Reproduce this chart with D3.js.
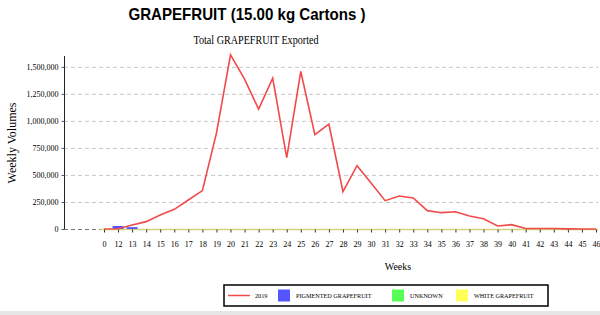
<!DOCTYPE html>
<html>
<head>
<meta charset="utf-8">
<script src="https://cdn.jsdelivr.net/npm/d3@7"></script>
<style>
	body { margin: 0; padding: 0; background: #fff; }
	svg text { font-family: "Liberation Serif", "Times New Roman", serif; fill: #000; }
</style>
</head>
<body>
<div id="chart"></div>
<script>
'use strict';

var weeks = ['0', '12', '13', '14', '15', '16', '17', '18', '19', '20', '21', '22',
	'23', '24', '25', '26', '27', '28', '29', '30', '31', '32', '33', '34', '35',
	'36', '37', '38', '39', '40', '41', '42', '43', '44', '45', '46'];

var total2019 = [0, 3000, 37000, 68000, 130000, 182000, 268000, 355000, 886000,
	1611000, 1386000, 1108000, 1395000, 660000, 1457000, 873000, 969000, 346000,
	586000, 425000, 262000, 305000, 287000, 170000, 151000, 160000, 120000, 95000,
	28000, 40000, 4000, 4000, 4000, 1000, 0, 0];

var pigmented = { '12': 28000, '13': 17000 };
var unknown = {};
var white = {};

var yTicks = [0, 250000, 500000, 750000, 1000000, 1250000, 1500000];

var legendItems = [
	{ label: '2019', color: '#f04a4a', type: 'line' },
	{ label: 'PIGMENTED GRAPEFRUIT', color: '#5555ff', type: 'box' },
	{ label: 'UNKNOWN', color: '#55ff55', type: 'box' },
	{ label: 'WHITE GRAPEFRUIT', color: '#ffff55', type: 'box' }
];

var width = 600, height = 315;
var plot = { left: 64, right: 598, top: 56, bottom: 229 };

var svg = d3.select('#chart').append('svg')
	.attr('width', width)
	.attr('height', height);

var x = d3.scalePoint().domain(weeks).range([plot.left + 40, 596]);
var y = d3.scaleLinear().domain([0, 1600000]).range([plot.bottom, plot.top]);

// titles (the source picture is a bit squeezed sideways)
svg.append('text')
	.attr('x', 247).attr('y', 20)
	.attr('text-anchor', 'middle')
	.attr('textLength', 237)
	.attr('lengthAdjust', 'spacingAndGlyphs')
	.style('font-family', '"Liberation Sans", Arial, sans-serif')
	.style('font-weight', 'bold')
	.style('font-size', '17px')
	.text('GRAPEFRUIT (15.00 kg Cartons )');

svg.append('text')
	.attr('x', 256).attr('y', 44)
	.attr('text-anchor', 'middle')
	.attr('textLength', 125)
	.attr('lengthAdjust', 'spacingAndGlyphs')
	.style('font-size', '12px')
	.text('Total GRAPEFRUIT Exported');

// grid
svg.append('g').selectAll('line')
	.data(yTicks.slice(1))
	.enter().append('line')
	.attr('x1', plot.left).attr('x2', plot.right)
	.attr('y1', function (d) { return y(d) + 0.5; })
	.attr('y2', function (d) { return y(d) + 0.5; })
	.attr('stroke', '#c8c8c8')
	.attr('stroke-dasharray', '4,3');

svg.append('line')
	.attr('x1', plot.left).attr('x2', plot.right)
	.attr('y1', y(0) + 0.5).attr('y2', y(0) + 0.5)
	.attr('stroke', '#777')
	.attr('stroke-dasharray', '4,3');

// y axis
var yAxis = d3.axisLeft(y).tickValues(yTicks).tickSize(3).tickFormat(d3.format(','));
var gy = svg.append('g')
	.attr('transform', 'translate(' + (plot.left + 0.5) + ',0)')
	.call(yAxis);
gy.select('.domain').attr('stroke', '#222').attr('d', 'M0,' + plot.top + 'V' + plot.bottom);
gy.selectAll('.tick line').attr('stroke', '#555');
gy.selectAll('.tick text').style('font-size', '8px').attr('x', -6);

// x axis
var xAxis = d3.axisBottom(x).tickSize(3).tickPadding(9);
var gx = svg.append('g')
	.attr('transform', 'translate(0,' + (plot.bottom + 0.5) + ')')
	.call(xAxis);
gx.select('.domain')
	.attr('stroke', '#d4d47c')
	.attr('stroke-width', 1.5)
	.attr('d', 'M' + (x('0') - 4) + ',0H' + plot.right);
gx.selectAll('.tick line').attr('stroke', '#333');
gx.selectAll('.tick text').style('font-size', '8px');

// bars
var barW = 11;
[{ data: pigmented, color: '#5555ff' },
 { data: unknown, color: '#55ff55' },
 { data: white, color: '#ffff55' }].forEach(function (s) {
	var entries = Object.keys(s.data).map(function (k) { return { week: k, value: s.data[k] }; });
	svg.append('g').selectAll('rect')
		.data(entries)
		.enter().append('rect')
		.attr('x', function (d) { return x(d.week) - barW / 2; })
		.attr('y', function (d) { return y(d.value); })
		.attr('width', barW)
		.attr('height', function (d) { return y(0) - y(d.value); })
		.attr('fill', s.color);
});

// line
var line = d3.line()
	.x(function (d, i) { return x(weeks[i]); })
	.y(function (d) { return y(d); });

svg.append('path')
	.datum(total2019)
	.attr('d', line)
	.attr('fill', 'none')
	.attr('stroke', '#f04a4a')
	.attr('stroke-width', 1.6);

// axis titles
svg.append('text')
	.attr('transform', 'translate(16,143) rotate(-90)')
	.attr('text-anchor', 'middle')
	.style('font-size', '12px')
	.text('Weekly Volumes');

svg.append('text')
	.attr('x', 398).attr('y', 270)
	.attr('text-anchor', 'middle')
	.style('font-size', '10px')
	.text('Weeks');

// legend
var lg = svg.append('g');
lg.append('rect')
	.attr('x', 224).attr('y', 285)
	.attr('width', 324).attr('height', 21)
	.attr('fill', '#fff')
	.attr('stroke', '#000')
	.attr('stroke-width', 1.5);

var legendX = [228, 278, 392, 456];
legendItems.forEach(function (d, i) {
	var g = lg.append('g').attr('transform', 'translate(' + legendX[i] + ',295.5)');
	var tx;
	if (d.type === 'line') {
		g.append('line').attr('x1', 0).attr('x2', 22)
			.attr('stroke', d.color).attr('stroke-width', 1.5);
		tx = 27;
	} else {
		g.append('rect').attr('x', 0).attr('y', -6)
			.attr('width', 12).attr('height', 12)
			.attr('fill', d.color);
		tx = 18;
	}
	g.append('text').attr('x', tx).attr('y', 2.5)
		.style('font-size', '6.2px')
		.text(d.label);
});

svg.append('rect')
	.attr('x', 0).attr('y', 311)
	.attr('width', width).attr('height', 4)
	.attr('fill', '#e6e6e6');
</script>
</body>
</html>
